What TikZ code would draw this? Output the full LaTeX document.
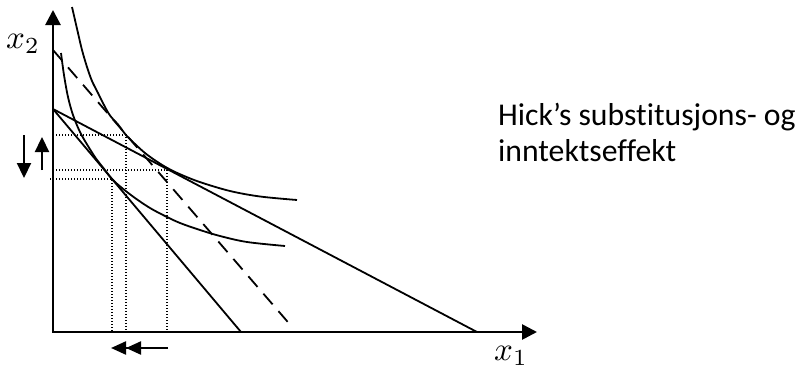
\documentclass[tikz,border=0pt]{standalone}
\usepackage{fontspec}
\setmainfont{Carlito}[Ligatures=NoCommon]
\usetikzlibrary{arrows.meta}
\begin{document}
\begin{tikzpicture}[x=1pt,y=-1pt,
  axisline/.style={line width=2.7pt,{Triangle[length=15pt,width=15pt]}-{Triangle[length=15pt,width=15pt]}},
  budget/.style={line width=1.8pt},
  comp/.style={line width=1.8pt,dash pattern=on 14pt off 9pt},
  icurve/.style={line width=1.8pt},
  guide/.style={line width=1.4pt,dash pattern=on 1.3pt off 1.7pt},
  effect/.style={line width=2.2pt,-{Triangle[length=15pt,width=14pt]}},
  effect2/.style={line width=2.2pt,-{Triangle[length=15pt,width=13pt]Triangle[length=15pt,width=13pt]}},
  lbl/.style={inner sep=0pt,scale=3.3},
  txt/.style={inner sep=0pt,anchor=base west,font=\fontsize{31.7}{36}\selectfont}
]
\useasboundingbox (0,0) rectangle (801,372);
% key points
\coordinate (ytop) at (53,10);
\coordinate (xend) at (537,332);
\coordinate (A) at (53,109);
\coordinate (Bsteep) at (241,332);
\coordinate (Bflat) at (477,332);
\coordinate (Dtop) at (53,50);
\coordinate (Dbot) at (293,328);
\coordinate (E0) at (167,170);
\coordinate (EH) at (126,135);
\coordinate (E1) at (112,179);
% dotted guides
\draw[guide] (53,135) -- (EH) -- (126,332);
\draw[guide] (53,170) -- (E0) -- (167,332);
\draw[guide] (50,179) -- (E1) -- (112,332);
% budget lines
\draw[budget] (A) -- (Bsteep);
\draw[budget] (A) -- (Bflat);
\draw[comp] (Dtop) -- (Dbot);
% indifference curves
\draw[icurve] plot[smooth,tension=0.55] coordinates {(72,7) (75,20) (78,33) (82,50) (87,67) (92,81) (98,93) (104,105) (110,115.5) (118,124.5) (126,135) (135,144) (145,153) (156,161) (167,167.8) (180,174.2) (200,182.1) (230,191) (260,196.5) (297,200)};
\draw[icurve] plot[smooth,tension=0.55] coordinates {(61,53) (64,75) (68,97) (73,115) (80,132) (88,146) (96,158.5) (104,168.8) (112,179) (122,188) (135,198) (150,208) (165,216) (180,223) (200,230) (220,236) (247,242) (285,246)};
% axes
\draw[axisline] (ytop) |- (xend);
% labels
\node[lbl] (x2) at (23,44) {$x_2$};
\node[lbl] (x1) at (511,356) {$x_1$};
\node[txt] (t1) at (498,125) {Hick’s substitusjons- og};
\node[txt] (t2) at (498,161) {inntektseffekt};
% effect arrows
\coordinate (d1) at (24,135);
\coordinate (d2) at (24,178);
\coordinate (u1) at (42,170);
\coordinate (u2) at (42,137);
\coordinate (h1) at (168,348);
\coordinate (h2) at (111,348);
\draw[effect] (d1) -- (d2);
\draw[effect] (u1) -- (u2);
\draw[effect2] (h1) -- (h2);
\end{tikzpicture}
\end{document}
